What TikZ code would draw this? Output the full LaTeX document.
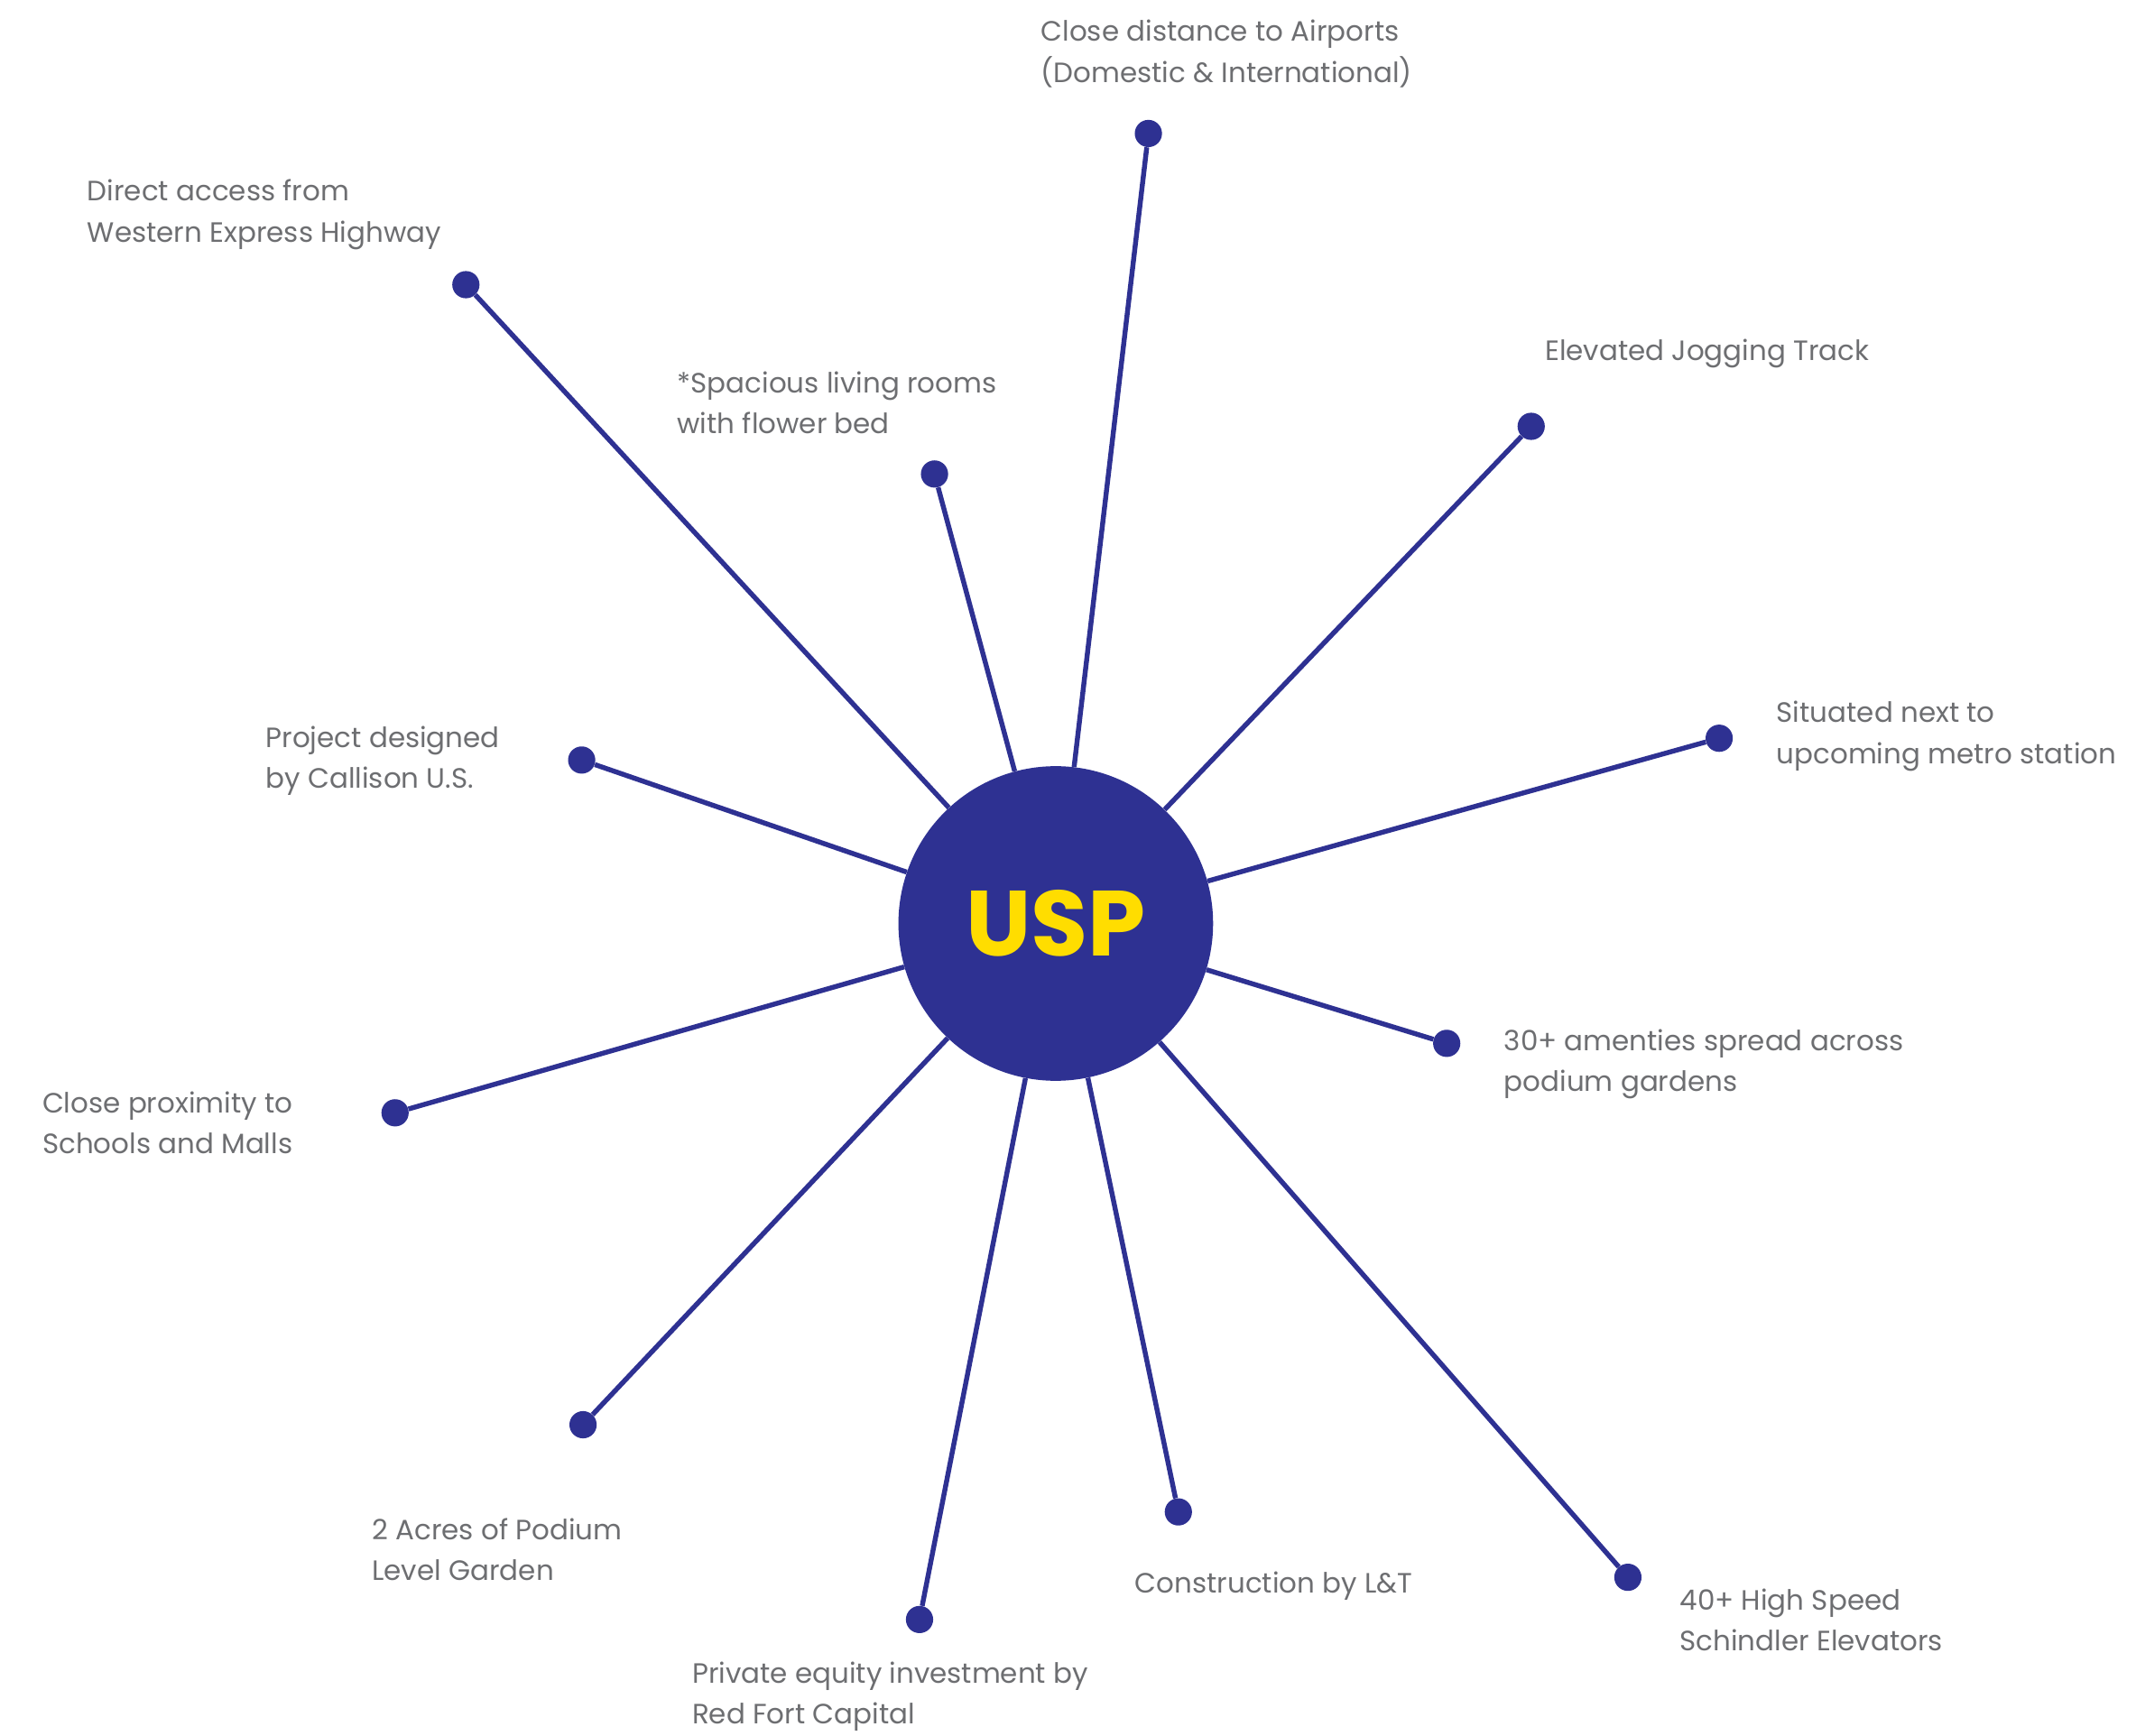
\documentclass[tikz,border=0pt]{standalone}
\usepackage{fontspec}
\setmainfont{Poppins}
\usetikzlibrary{calc}

\definecolor{uspblue}{HTML}{2E3192}
\definecolor{uspyellow}{HTML}{FFDD00}
\definecolor{uspgray}{HTML}{6D6E71}

\tikzset{
    hub/.style={circle, fill=uspblue, minimum size=231pt, inner sep=0pt,
        text=uspyellow, font=\fontsize{68}{68}\selectfont\bfseries},
    dot/.style={circle, fill=uspblue, minimum size=20pt, inner sep=0pt},
    spoke/.style={draw=uspblue, line width=3.6pt},
    lbl/.style={anchor=west, align=left, inner sep=0pt, text=uspgray,
        font=\fontsize{20.5}{30}\selectfont}
}

\begin{document}
\begin{tikzpicture}[x=1pt, y=-1pt, every node/.style={}]

    \useasboundingbox (0,0) rectangle (1568,1273.9);

    % centre
    \node[hub] (usp) at (775,678) {USP};

    % spokes
    \foreach \nm/\x/\y in {
        airports/843/98, highway/342/209, rooms/686/348, jogging/1124/313,
        metro/1262/542, callison/427/558, amenities/1062/766, schools/290/817,
        garden/428/1046, equity/675/1189, landt/865/1110, elevators/1195/1158}
    {
        \node[dot] (\nm) at (\x,\y) {};
        \draw[spoke] (usp) -- (\nm);
    }

    % labels
    \node[lbl] (tairports) at (764,39.5) {Close distance to Airports\\(Domestic \& International)};
    \node[lbl] (thighway) at (64,157.5) {Direct access from\\Western Express Highway};
    \node[lbl] (trooms) at (497,295.5) {*Spacious living rooms\\with flower bed};
    \node[lbl] (tjogging) at (1134,259.5) {Elevated Jogging Track};
    \node[lbl] (tmetro) at (1304,540.5) {Situated next to\\upcoming metro station};
    \node[lbl] (tcallison) at (195,558.5) {Project designed\\by Callison U.S.};
    \node[lbl] (tamenities) at (1104,781.5) {30+ amenties spread across\\podium gardens};
    \node[lbl] (tschools) at (31,824.5) {Close proximity to\\Schools and Malls};
    \node[lbl] (tgarden) at (273,1137.5) {2 Acres of Podium\\Level Garden};
    \node[lbl] (tequity) at (508,1245.5) {Private equity investment by\\Red Fort Capital};
    \node[lbl] (tlandt) at (833,1164.5) {Construction by L\&T};
    \node[lbl] (televators) at (1233,1189.5) {40+ High Speed\\Schindler Elevators};

\end{tikzpicture}
\end{document}
